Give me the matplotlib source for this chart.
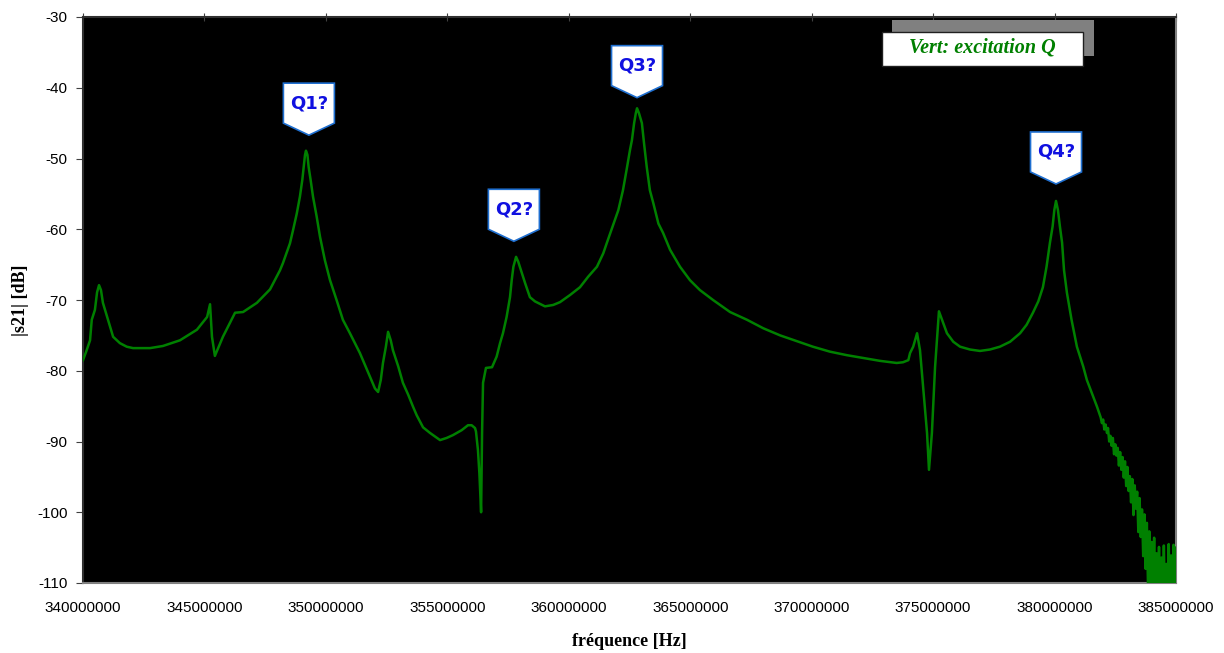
import matplotlib
matplotlib.use("Agg")
import matplotlib.pyplot as plt
from matplotlib.patches import Polygon, Rectangle

# ---- data (frequency in MHz, |s21| in dB) ----
freq_mhz = [
    340.00, 340.12, 340.29, 340.36, 340.49, 340.58, 340.66, 340.74, 340.82, 341.03,
    341.24, 341.52, 341.80, 342.06, 342.76, 343.29, 343.99, 344.69, 345.11, 345.23,
    345.31, 345.43, 345.76, 346.26, 346.59, 347.16, 347.70, 348.11, 348.23, 348.52,
    348.65, 348.80, 348.93, 349.03, 349.10, 349.14, 349.18, 349.24, 349.29, 349.37,
    349.47, 349.62, 349.76, 349.96, 350.17, 350.44, 350.70, 350.99, 351.40, 351.82,
    352.02, 352.15, 352.26, 352.35, 352.47, 352.56, 352.67, 352.76, 352.98, 353.17,
    353.39, 353.59, 353.74, 354.00, 354.29, 354.70, 354.97, 355.23, 355.59, 355.85,
    356.00, 356.14, 356.18, 356.26, 356.32, 356.39, 356.43, 356.45, 356.47, 356.59,
    356.84, 357.03, 357.17, 357.29, 357.44, 357.58, 357.65, 357.72, 357.83, 357.92,
    358.07, 358.20, 358.40, 358.61, 359.02, 359.36, 359.64, 360.05, 360.46, 360.80,
    361.16, 361.42, 361.56, 362.04, 362.23, 362.38, 362.52, 362.60, 362.69, 362.76,
    362.81, 362.89, 363.01, 363.10, 363.21, 363.34, 363.48, 363.69, 363.88, 364.17,
    364.58, 364.99, 365.40, 365.94, 366.64, 367.34, 368.01, 368.70, 369.38, 370.05,
    370.75, 371.45, 372.13, 372.81, 373.50, 373.76, 373.98, 374.05, 374.18, 374.34,
    374.46, 374.75, 374.83, 374.95, 375.08, 375.24, 375.57, 375.83, 376.11, 376.52,
    376.93, 377.34, 377.75, 378.17, 378.58, 378.85, 379.11, 379.33, 379.52, 379.67,
    379.81, 379.92, 379.99, 380.06, 380.14, 380.22, 380.31, 380.39, 380.51, 380.70,
    380.92, 381.18, 381.33, 381.75,
    381.90, 381.95, 382.00, 382.05, 382.10, 382.16, 382.20, 382.25, 382.30, 382.35,
    382.40, 382.45, 382.50, 382.55, 382.60, 382.65, 382.70, 382.75, 382.80, 382.85,
    382.90, 382.95, 383.00, 383.05, 383.10, 383.15, 383.20, 383.25, 383.30, 383.35,
    383.40, 383.45, 383.50, 383.55, 383.60, 383.65, 383.70, 383.75, 383.80, 383.85,
    383.90, 383.95, 384.00, 384.05, 384.10, 384.15, 384.20, 384.25, 384.30, 384.35,
    384.40, 384.45, 384.50, 384.55, 384.60, 384.65, 384.70, 384.75, 384.80, 384.85,
    384.90, 384.95, 385.00,
]
s21_db = [
    -78.5, -77.4, -75.7, -72.8, -71.4, -68.9, -67.9, -68.6, -70.4, -72.8,
    -75.2, -76.1, -76.6, -76.8, -76.8, -76.5, -75.7, -74.2, -72.4, -70.6,
    -75.2, -77.9, -75.2, -71.8, -71.7, -70.4, -68.5, -65.8, -64.8, -62.0,
    -60.1, -57.8, -55.4, -53.0, -50.7, -49.5, -48.9, -49.5, -51.2, -53.0,
    -55.4, -58.2, -61.1, -64.4, -67.2, -70.0, -72.8, -74.7, -77.5, -80.9,
    -82.5, -83.0, -81.3, -78.9, -76.6, -74.5, -75.7, -77.1, -79.4, -81.7,
    -83.4, -85.1, -86.3, -88.0, -88.8, -89.8, -89.5, -89.1, -88.4, -87.7,
    -87.7, -88.1, -88.6, -91.2, -94.5, -100.0, -88.8, -85.1, -81.7, -79.6,
    -79.5, -78.0, -76.1, -74.7, -72.4, -69.6, -67.2, -65.3, -63.9, -64.6,
    -66.2, -67.6, -69.6, -70.2, -70.9, -70.7, -70.3, -69.3, -68.2, -66.7,
    -65.3, -63.4, -62.0, -57.3, -54.5, -51.6, -48.8, -47.4, -45.0, -43.6,
    -42.9, -43.6, -45.0, -47.9, -51.2, -54.5, -56.3, -59.2, -60.5, -62.9,
    -65.3, -67.2, -68.6, -70.0, -71.7, -72.8, -74.0, -75.0, -75.8, -76.6,
    -77.3, -77.8, -78.2, -78.6, -78.9, -78.8, -78.5, -77.5, -76.6, -74.7,
    -77.1, -88.8, -94.0, -88.8, -79.5, -71.6, -74.7, -75.9, -76.6, -77.0,
    -77.2, -77.0, -76.6, -75.9, -74.7, -73.5, -71.8, -70.2, -68.2, -65.3,
    -61.9, -59.6, -57.3, -56.0, -57.3, -59.6, -61.9, -65.8, -69.0, -72.8,
    -76.6, -79.4, -81.3, -85.1,
    -86.6, -87.4, -86.9, -88.3, -87.6, -88.8, -88.1, -90.0, -89.2, -90.6,
    -89.5, -91.8, -90.4, -92.0, -90.9, -93.4, -91.5, -94.0, -92.2, -95.1,
    -92.8, -96.3, -93.6, -97.0, -94.9, -98.6, -95.3, -100.4, -96.2, -99.5,
    -97.1, -102.8, -98.0, -103.5, -99.6, -106.2, -100.3, -108.0, -101.5, -111.0,
    -102.7, -112.5, -104.2, -113.0, -103.6, -114.5, -105.8, -115.0, -104.9, -113.8,
    -106.4, -116.0, -104.7, -114.2, -107.3, -115.5, -104.5, -113.0, -106.1, -115.8,
    -104.6, -114.0, -105.0,
]

callout_labels = ["Q1?", "Q2?", "Q3?", "Q4?"]
callout_freq_mhz = [349.30, 357.74, 362.81, 380.06]
callout_db = [-46.7, -61.7, -41.4, -53.6]

x_ticks_hz = [340000000, 345000000, 350000000, 355000000, 360000000,
              365000000, 370000000, 375000000, 380000000, 385000000]
y_ticks = [-30, -40, -50, -60, -70, -80, -90, -100, -110]

legend_text = "Vert: excitation Q"
x_label = "fréquence [Hz]"
y_label = "|s21| [dB]"

# ---- figure ----
W, H = 1224, 653
fig = plt.figure(figsize=(W / 100, H / 100), dpi=100)
fig.patch.set_facecolor("white")
ax = fig.add_axes([83 / W, 1 - 583 / H, (1176 - 83) / W, (583 - 17) / H])
ax.set_facecolor("black")

freq_hz = [f * 1e6 for f in freq_mhz]
ax.plot(freq_hz, s21_db, color="#008000", lw=1.8, zorder=3)

ax.set_xlim(340e6, 385e6)
ax.set_ylim(-110, -30)
ax.set_xticks(x_ticks_hz)
ax.set_xticklabels([str(v) for v in x_ticks_hz], fontsize=11, family="Liberation Sans")
ax.set_yticks(y_ticks)
ax.set_yticklabels([str(v) for v in y_ticks], fontsize=11, family="Liberation Sans")
ax.tick_params(axis="x", which="both", top=True, bottom=False, labeltop=False,
               labelbottom=True, direction="inout", length=6, color="#404040", pad=10)
ax.tick_params(axis="y", direction="out", length=5, color="#404040", pad=6)

for s in ["left", "top"]:
    ax.spines[s].set_color("#303030")
    ax.spines[s].set_linewidth(1.5)
for s in ["right", "bottom"]:
    ax.spines[s].set_color("#808080")
    ax.spines[s].set_linewidth(1.5)

ax.set_xlabel(x_label, fontsize=13, fontweight="bold", family="Liberation Serif", labelpad=13)
ax.set_ylabel(y_label, fontsize=13, fontweight="bold", family="Liberation Serif", labelpad=6)

# ---- callouts ----
hw = 1.05e6   # half width in Hz
hp = 1.7      # pointer height in dB
hh = 5.65     # box height in dB
for lab, f, d in zip(callout_labels, callout_freq_mhz, callout_db):
    fx = f * 1e6
    verts = [(fx, d), (fx - hw, d + hp), (fx - hw, d + hp + hh),
             (fx + hw, d + hp + hh), (fx + hw, d + hp)]
    ax.add_patch(Polygon(verts, closed=True, facecolor="white",
                         edgecolor="#1f6fd0", lw=1.2, zorder=5))
    ax.text(fx, d + hp + hh / 2, lab, ha="center", va="center", color="#1010e0",
            fontsize=13, fontweight="bold", family="DejaVu Sans", zorder=6)

# ---- legend-like label box ----
fig.patches.append(Rectangle((892 / W, 1 - 56 / H), (1094 - 892) / W, (56 - 20) / H,
                             transform=fig.transFigure, facecolor="#808080",
                             edgecolor="none", zorder=10))
fig.patches.append(Rectangle((882 / W, 1 - 66 / H), (1083 - 882) / W, (66 - 32) / H,
                             transform=fig.transFigure, facecolor="white",
                             edgecolor="#202020", lw=1.0, zorder=11))
fig.text((882 + 1083) / 2 / W, 1 - 47 / H, legend_text, ha="center", va="center",
         color="#008000", fontsize=14.5, fontweight="bold", fontstyle="italic",
         family="Liberation Serif", zorder=12)

fig.savefig("out.png", dpi=100, facecolor="white")
